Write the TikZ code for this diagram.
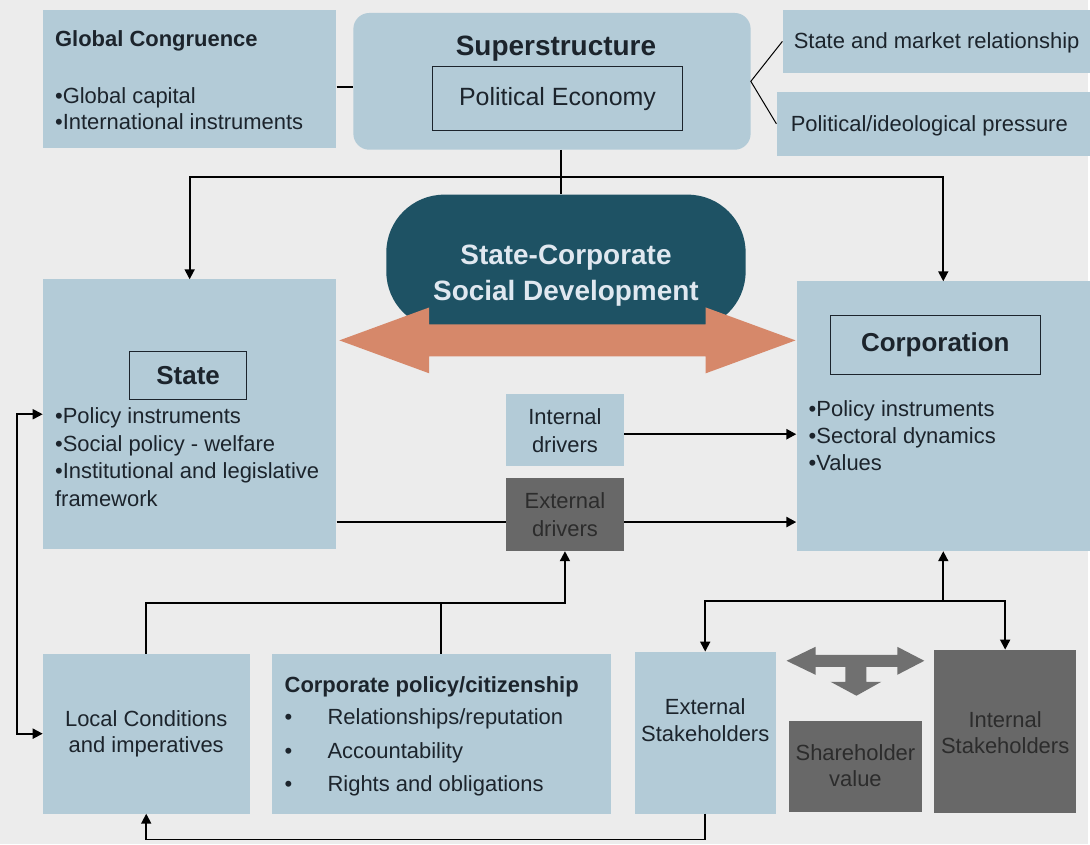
\documentclass[tikz,border=0pt]{standalone}
\usepackage{fontspec}
\setmainfont{Liberation Sans}
\usepackage{xcolor}
\usepackage{tikz}
\usetikzlibrary{arrows.meta}

\definecolor{boxblue}{RGB}{179,203,215}
\definecolor{boxgray}{RGB}{104,104,104}
\definecolor{hubteal}{RGB}{30,82,100}
\definecolor{hubtext}{RGB}{224,232,240}
\definecolor{linkorange}{RGB}{214,136,106}
\definecolor{arrowgray}{RGB}{112,112,112}
\definecolor{paper}{RGB}{236,236,236}
\definecolor{ink}{RGB}{28,36,44}
\definecolor{dimink}{RGB}{44,44,44}

\begin{document}
\begin{tikzpicture}[x=1pt, y=-1pt, >={Triangle[length=10pt,width=10pt]},
  every node/.style={font=\fontsize{22}{28}\selectfont, text=ink, inner sep=0pt},
  box/.style={fill=boxblue},
  darkbox/.style={fill=boxgray, text=dimink},
  tag/.style={draw=ink, line width=1.2pt},
  heading/.style={font=\bfseries\fontsize{26}{30}\selectfont},
  link/.style={line width=1.8pt},
  thicklink/.style={line width=2.4pt}]

% page
\fill[paper] (0,0) rectangle (1090,846);

% top row
\node[box, minimum width=294pt, minimum height=138pt] (glob) at (190,79) {};
\node[anchor=west, font=\bfseries\fontsize{22}{28}\selectfont] (globttl) at (55,41) {Global Congruence};
\node[anchor=west, align=left, font=\fontsize{22}{26}\selectfont] (globlist) at (55,109) {•Global capital\\•International instruments};

\node[box, rounded corners=16pt, minimum width=398pt, minimum height=137pt] (super) at (553,81.5) {};
\node[heading, font=\bfseries\fontsize{28}{32}\selectfont] (superttl) at (557,49) {Superstructure};
\node[tag, minimum width=251pt, minimum height=64pt, font=\fontsize{25}{30}\selectfont] (polecon) at (558.5,99) {Political Economy};

\node[box, minimum width=308pt, minimum height=63pt] (smr) at (938,41.5) {};
\node[anchor=west] (smrtxt) at (795,43) {State and market relationship};
\node[box, minimum width=314pt, minimum height=64pt] (ppr) at (935,124) {};
\node[anchor=west] (pprtxt) at (792,126) {Political/ideological pressure};

% state and corporation
\node[box, minimum width=294pt, minimum height=270pt] (state) at (190,415) {};
\node[tag, heading, minimum width=117pt, minimum height=48pt] (statettl) at (188.5,376) {State};
\node[anchor=west, align=left] (statelist) at (55,458) {•Policy instruments\\•Social policy - welfare\\•Institutional and legislative\\framework};

\node[box, minimum width=294pt, minimum height=270pt] (corp) at (945,417) {};
\node[tag, heading, minimum width=210pt, minimum height=59pt] (corpttl) at (937,345.5) {Corporation};
\node[anchor=west, align=left, font=\fontsize{22}{27}\selectfont] (corplist) at (810,436) {•Policy instruments\\•Sectoral dynamics\\•Values};

% centre hub
\node[fill=hubteal, rounded corners=58pt, minimum width=360pt, minimum height=135pt] (hub) at (567,262.5) {};
\node[align=center, text=hubtext, font=\bfseries\fontsize{28}{36}\selectfont] (hubttl) at (567,276) {State-Corporate\\Social Development};
\fill[linkorange] (340,341) -- (430,308) -- (430,325) -- (707,325) -- (707,308)
  -- (797,341) -- (707,374) -- (707,357) -- (430,357) -- (430,374) -- cycle;

% drivers
\node[box, minimum width=118pt, minimum height=72pt, align=center] (intdrv) at (566,431) {Internal\\drivers};
\node[darkbox, minimum width=118pt, minimum height=73pt, align=center] (extdrv) at (566,515.5) {External\\drivers};

% bottom row
\node[box, minimum width=207pt, minimum height=160pt, align=center, font=\fontsize{22}{26}\selectfont] (local) at (146.5,735) {Local Conditions\\and imperatives};
\node[box, minimum width=340pt, minimum height=160pt] (cpc) at (442,735) {};
\node[anchor=west, font=\bfseries\fontsize{22}{28}\selectfont] (cpcttl) at (285,688) {Corporate policy/citizenship};
\node[anchor=north west, align=left, font=\fontsize{22}{33.5}\selectfont] (cpcList) at (283,710)
  {\makebox[45pt][l]{\hspace{2pt}•}Relationships/reputation\\\makebox[45pt][l]{\hspace{2pt}•}Accountability\\\makebox[45pt][l]{\hspace{2pt}•}Rights and obligations};

\node[box, minimum width=141pt, minimum height=162pt] (extsh) at (706.5,734) {};
\node[align=center, font=\fontsize{22}{27}\selectfont] (extshtxt) at (706.5,721) {External\\Stakeholders};
\node[darkbox, minimum width=134pt, minimum height=91pt, align=center, font=\fontsize{22}{26}\selectfont] (shv) at (857,767.5) {Shareholder\\value};
\node[darkbox, minimum width=142pt, minimum height=163pt] (intsh) at (1007,732.5) {};
\node[align=center, text=dimink, font=\fontsize{22}{27}\selectfont] (intshtxt) at (1007,734) {Internal\\Stakeholders};

% stakeholder split arrow
\fill[arrowgray] (788,662) -- (817,648) -- (817,656) -- (899,656) -- (899,648) -- (926,662)
  -- (899,676) -- (899,668) -- (868,668) -- (868,683) -- (883,683) -- (858,697)
  -- (832,683) -- (847,683) -- (847,668) -- (817,668) -- (817,676) -- cycle;

% connectors
\coordinate (hubtop) at (562,177);
\coordinate (feed) at (566,604);
\coordinate (split) at (945,602);
\coordinate (loopbot) at (400,841);

\draw[link] ([yshift=-8pt]glob.east) -- ([yshift=-8pt]glob.east -| super.west);
\draw[line width=1pt] (smr.west) -- (super.east) -- (ppr.west);
\draw[link] (hubtop |- super.south) -- (hubtop |- hub.north);
\draw[link, ->] (hubtop) -| (state.north);
\draw[link, ->] (hubtop) -| (corp.north);

\draw[thicklink, ->] ([yshift=-4pt]intdrv.east) -- ([yshift=-4pt]intdrv.east -| corp.west);
\draw[thicklink] ([yshift=-7.5pt]extdrv.west -| state.east) -- ([yshift=-7.5pt]extdrv.west);
\draw[thicklink, ->] ([yshift=-7.5pt]extdrv.east) -- ([yshift=-7.5pt]extdrv.east -| corp.west);

\draw[link, ->] (local.north) |- (feed) -- (extdrv.south);
\draw[link] (cpc.north) -- (cpc.north |- feed);

\draw[link, ->] (split) -- (split |- corp.south);
\draw[link, ->] (split) -| (extsh.north);
\draw[link, ->] (split) -| (intsh.north);

\draw[link, ->] (extsh.south) |- (loopbot) -| (local.south);
\draw[link, <->] (state.west) -- ++(-26,0) |- (local.west);

\end{tikzpicture}
\end{document}
